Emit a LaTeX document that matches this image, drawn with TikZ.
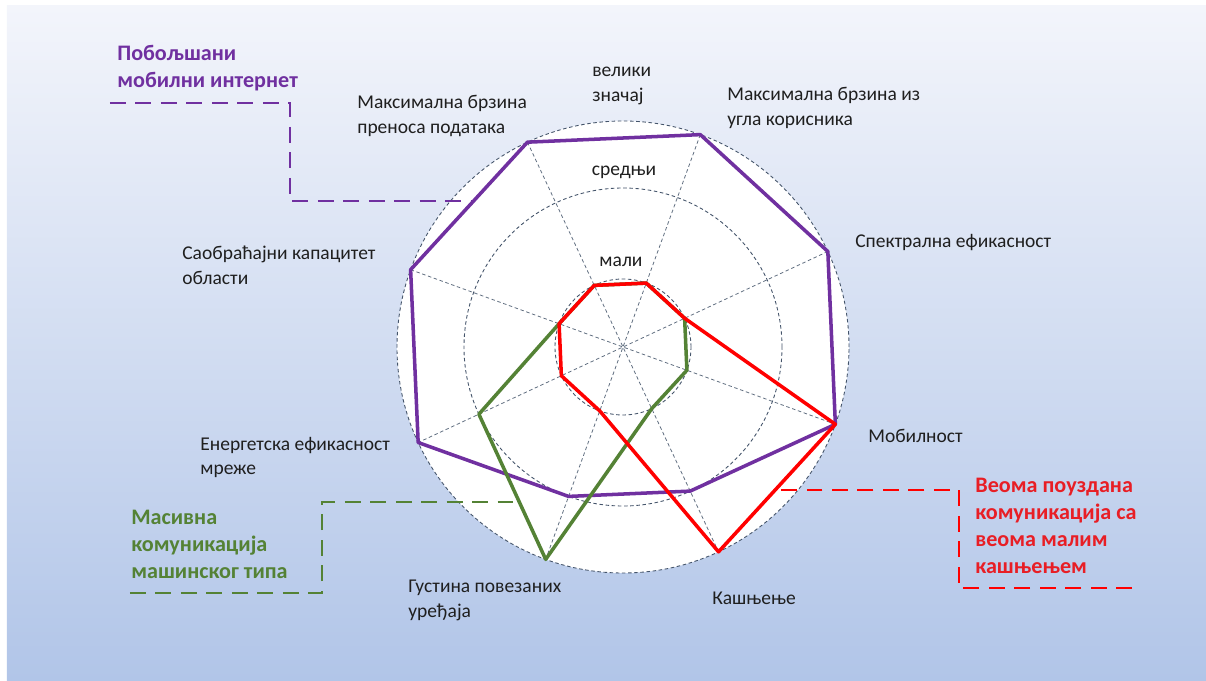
\documentclass[tikz,border=0pt]{standalone}
\usepackage{fontspec}
\setmainfont{Carlito}
\usetikzlibrary{calc}
\usetikzlibrary{positioning}

\definecolor{embbPurple}{HTML}{7030A0}
\definecolor{urllcRed}{HTML}{FF0000}
\definecolor{urllcText}{HTML}{E81E25}
\definecolor{mmtcGreen}{HTML}{548235}
\definecolor{gridGray}{HTML}{44546A}
\definecolor{bgTop}{HTML}{F3F5FB}
\definecolor{bgBottom}{HTML}{B1C5E8}

\begin{document}
\begin{tikzpicture}
	[every node/.style={font=\fontsize{11.1}{14.2}\selectfont, inner sep=0pt, text=black!88},
	axislabel/.style={anchor=west, align=left},
	usecase/.style={anchor=west, align=left, font=\fontsize{12.6}{15.4}\selectfont\bfseries},
	ring/.style={draw=gridGray, dash pattern=on 2pt off 1.5pt, line width=0.5pt},
	spoke/.style={draw=gridGray!85, dash pattern=on 2pt off 1.5pt, line width=0.45pt},
	profile/.style={line width=2pt, line join=round},
	callout/.style={line width=1.6pt, dash pattern=on 9pt off 5.5pt}]

	\useasboundingbox (-12.46,-6.68) rectangle (11.66,6.94);
	\shade[top color=bgTop, bottom color=bgBottom] (-12.32,-6.68) rectangle (11.66,6.82);

	% rings and spokes
	\fill[white] (0,0) circle (4.52);
	\foreach \r in {1.36,3.18,4.52}
		\draw[ring] (0,0) circle (\r);
	\foreach \a in {25,70,115,160}
		\draw[spoke] (\a:4.52) -- (\a+180:4.52);

	% usage scenarios
	\draw[profile, embbPurple] (115:4.52) -- (70:4.52) -- (25:4.52) -- (-20:4.52)
		-- (-65:3.18) -- (-110:3.18) -- (-155:4.52) -- (160:4.52) -- cycle;
	\draw[profile, mmtcGreen] (115:1.36) -- (70:1.36) -- (25:1.36) -- (-20:1.36)
		-- (-65:1.36) -- (-110:4.52) -- (-155:3.18) -- (160:1.36) -- cycle;
	\draw[profile, urllcRed] (115:1.36) -- (70:1.36) -- (25:1.36) -- (-20:4.52)
		-- (-65:4.52) -- (-110:1.36) -- (-155:1.36) -- (160:1.36) -- cycle;

	% ring labels
	\node[axislabel] (lblBig) at (-0.62,5.23) {велики\\значај};
	\node (lblMedium) at (0.02,3.5) {средњи};
	\node (lblSmall) at (-0.04,1.7) {мали};

	% axis labels
	\node[axislabel] (axPeakRate) at (-5.32,4.63) {Максимална брзина\\преноса података};
	\node[axislabel] (axUserRate) at (2.08,4.79) {Максимална брзина из\\угла корисника};
	\node[axislabel] (axSpectral) at (4.64,2.08) {Спектрална ефикасност};
	\node[axislabel] (axMobility) at (4.9,-1.78) {Мобилност};
	\node[axislabel] (axLatency) at (1.78,-5.02) {Кашњење};
	\node[axislabel] (axDensity) at (-4.3,-5.07) {Густина повезаних\\уређаја};
	\node[axislabel] (axEnergy) at (-8.46,-2.21) {Енергетска ефикасност\\мреже};
	\node[axislabel] (axTraffic) at (-8.82,1.63) {Саобраћајни капацитет\\области};

	% use case labels
	\node[usecase, text=embbPurple] (ucEmbb) at (-10.12,5.57) {Побољшани\\мобилни интернет};
	\node[usecase, text=mmtcGreen] (ucMmtc) at (-9.84,-3.94) {Масивна\\комуникација\\машинског типа};
	\node[usecase, text=urllcText] (ucUrllc) at (7.04,-3.57) {Веома поуздана\\комуникација са\\веома малим\\кашњењем};

	% callouts
	\coordinate (embbStart) at (-10.26,4.88);
	\coordinate (embbKnee) at (-6.66,4.88);
	\coordinate (embbEnd) at ($(160:4.52)!0.539!(115:4.52)$);
	\draw[callout, embbPurple] (embbStart) -- (embbKnee) |- (embbEnd);

	\coordinate (mmtcStart) at (-9.86,-4.92);
	\coordinate (mmtcKnee) at (-6.02,-4.92);
	\coordinate (mmtcEnd) at ($(-155:3.18)!0.605!(-110:4.52)$);
	\draw[callout, mmtcGreen] (mmtcStart) -- (mmtcKnee) |- (mmtcEnd);

	\coordinate (urllcStart) at (10.18,-4.82);
	\coordinate (urllcKnee) at (6.72,-4.82);
	\coordinate (urllcEnd) at ($(-20:4.52)!0.515!(-65:4.52)$);
	\draw[callout, urllcRed] (urllcStart) -- (urllcKnee) |- (urllcEnd);
\end{tikzpicture}
\end{document}
